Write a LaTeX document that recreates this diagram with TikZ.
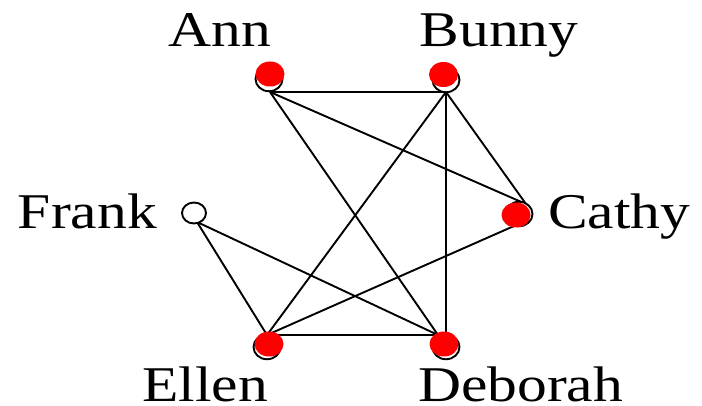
\documentclass[tikz,border=0pt]{standalone}
\usepackage{fontspec}
\setmainfont{Liberation Serif}
\usetikzlibrary{shapes.geometric}
\begin{document}
\begin{tikzpicture}[x=1pt,y=-1pt,
  edge/.style={line width=1.9pt,black},
  ring/.style={ellipse,draw=black,fill=white,line width=1.9pt,inner sep=0pt,
               minimum width=27pt,minimum height=24.5pt},
  dot/.style={ellipse,fill=red,inner sep=0pt,minimum width=29pt,minimum height=25pt},
  vlabel/.style={font=\fontsize{50}{50}\selectfont,inner sep=0pt}]
\useasboundingbox[fill=white] (0,0) rectangle (702,406);

% attachment points of the edges
\coordinate (pa) at (270,92);
\coordinate (pb) at (446,92);
\coordinate (pf) at (197,222);
\coordinate (pc1) at (526,204);
\coordinate (pc2) at (514,226);
\coordinate (pe) at (267,335);
\coordinate (pd) at (438,335);
\coordinate (pd2) at (446,336);

% edges
\draw[edge] (pa) -- (pb);
\draw[edge] (pa) -- (pc1);
\draw[edge] (pa) -- (pd);
\draw[edge] (pb) -- (pc1);
\draw[edge] (pb) -- (pe);
\draw[edge] (pb) -- (pd2);
\draw[edge] (pf) -- (pe);
\draw[edge] (pf) -- (pd);
\draw[edge] (pc2) -- (pe);
\draw[edge] (pe) -- (pd);

% vertices
\node[ring] (ann) at (269,79) {};
\node[ring] (bunny) at (446,80) {};
\node[ring,minimum width=24pt,minimum height=21pt] (frank) at (194,213) {};
\node[ring] (cathy) at (519,214) {};
\node[ring] (ellen) at (267,347) {};
\node[ring] (deborah) at (446,347) {};

\node[dot] (annd) at (270,74) {};
\node[dot] (bunnyd) at (443.5,74.5) {};
\node[dot] (cathyd) at (516,215) {};
\node[dot] (ellend) at (269,344) {};
\node[dot] (deborahd) at (444,344) {};

% labels
\node[vlabel,anchor=base] (lann) at (220,47) {\scalebox{1.19}[1]{Ann}};
\node[vlabel,anchor=base] (lbunny) at (499,47) {\scalebox{1.19}[1]{Bunny}};
\node[vlabel,anchor=base east] (lfrank) at (157,229) {\scalebox{1.19}[1]{Frank}};
\node[vlabel,anchor=base west] (lcathy) at (548,229) {\scalebox{1.19}[1]{Cathy}};
\node[vlabel,anchor=base east] (lellen) at (268,401) {\scalebox{1.19}[1]{Ellen}};
\node[vlabel,anchor=base west] (ldeborah) at (418,401) {\scalebox{1.19}[1]{Deborah}};
\end{tikzpicture}
\end{document}
